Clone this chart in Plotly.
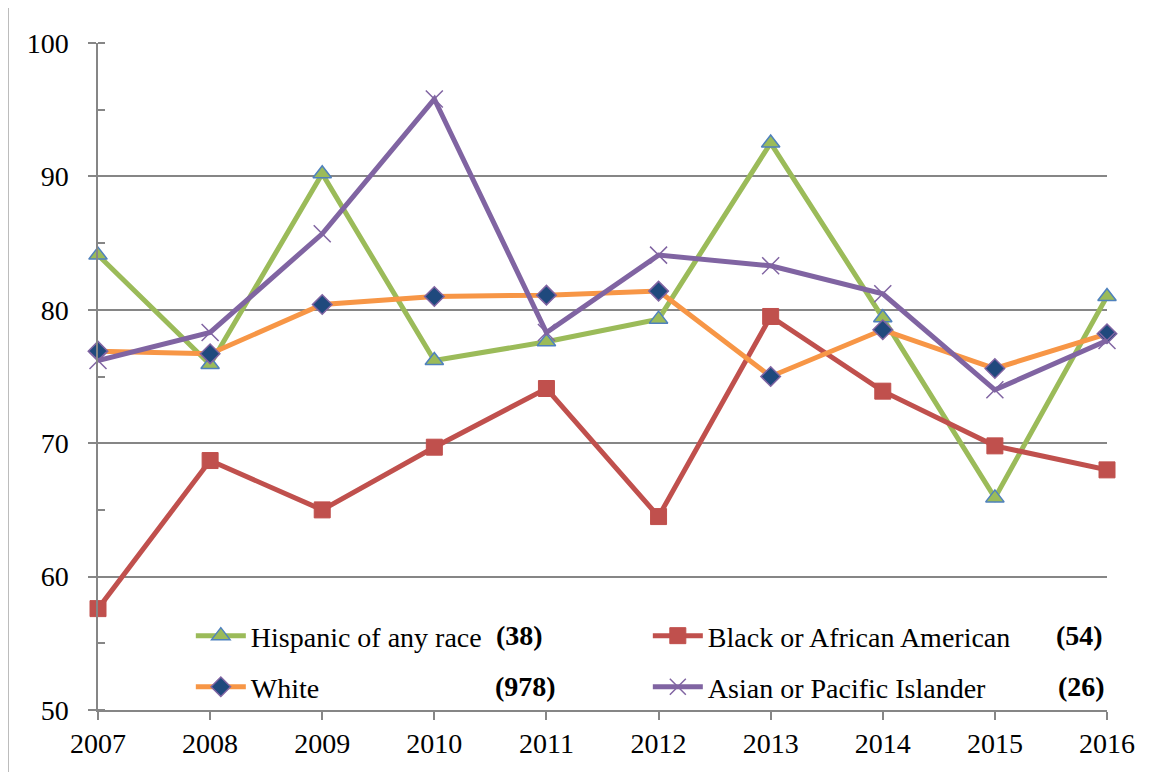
import plotly.graph_objects as go

years = [2007, 2008, 2009, 2010, 2011, 2012, 2013, 2014, 2015, 2016]
hispanic = [84.1, 75.9, 90.2, 76.2, 77.6, 79.3, 92.5, 79.4, 65.9, 81.0]
black = [57.6, 68.7, 65.0, 69.7, 74.1, 64.5, 79.5, 73.9, 69.8, 68.0]
white = [76.9, 76.7, 80.4, 81.0, 81.1, 81.4, 75.0, 78.5, 75.6, 78.2]
asian = [76.2, 78.3, 85.7, 95.8, 78.3, 84.1, 83.3, 81.2, 74.0, 77.7]

names = ["Hispanic of any race", "Black or African American", "White", "Asian or Pacific Islander"]
counts = ["(38)", "(54)", "(978)", "(26)"]

FONT = "Liberation Serif, Times New Roman, serif"
LFS = 28
LW = 5

fig = go.Figure()
fig.add_trace(go.Scatter(
    x=years, y=hispanic, name=names[0], mode="lines+markers", legend="legend",
    cliponaxis=False,
    line=dict(color="#9BBB59", width=LW),
    marker=dict(symbol="triangle-up", size=16, color="#9BBB59",
                line=dict(color="#4F81BD", width=1.5))))
fig.add_trace(go.Scatter(
    x=years, y=black, name=names[1], mode="lines+markers", legend="legend",
    cliponaxis=False,
    line=dict(color="#C0504D", width=LW),
    marker=dict(symbol="square", size=16, color="#C0504D",
                line=dict(color="#C0504D", width=1))))
fig.add_trace(go.Scatter(
    x=years, y=white, name=names[2], mode="lines+markers", legend="legend2",
    cliponaxis=False,
    line=dict(color="#F79646", width=LW),
    marker=dict(symbol="diamond", size=15, color="#1F497D",
                line=dict(color="#8064A2", width=1.5))))
fig.add_trace(go.Scatter(
    x=years, y=asian, name=names[3], mode="lines+markers", legend="legend2",
    cliponaxis=False,
    line=dict(color="#8064A2", width=LW),
    marker=dict(symbol="x-thin", size=17, color="#8064A2",
                line=dict(color="#8064A2", width=1.5))))

# legend counts (bold), aligned like tab stops
count_pos = [(0.443, 0.111), (0.998, 0.111), (0.456, 0.0345), (1.0, 0.0345)]
for c, (px, py) in zip(counts, count_pos):
    fig.add_annotation(text="<b>" + c + "</b>", x=px, y=py, xref="paper", yref="paper",
                       xanchor="right", yanchor="middle", showarrow=False,
                       font=dict(family=FONT, size=LFS, color="black"))

fig.add_shape(type="line", xref="paper", yref="paper",
              x0=-0.0892, x1=-0.0892, y0=-0.2, y1=1.2,
              line=dict(color="#A6A6A6", width=1.5))

leg_common = dict(orientation="h", x=0.092, xanchor="left", yanchor="middle",
                  bgcolor="rgba(0,0,0,0)", itemwidth=50,
                  entrywidth=392, entrywidthmode="pixels",
                  font=dict(family=FONT, size=LFS, color="black"),
                  tracegroupgap=0)

fig.update_layout(
    width=1157, height=772,
    margin=dict(l=90, r=58, t=35, b=70),
    paper_bgcolor="white", plot_bgcolor="white",
    font=dict(family=FONT, size=LFS, color="black"),
    showlegend=True,
    legend=dict(y=0.111, **leg_common),
    legend2=dict(y=0.0345, **leg_common),
    xaxis=dict(range=[2007, 2016], tickvals=years, ticktext=[str(y) for y in years],
               showgrid=False, showline=True, linecolor="#868686", linewidth=1.5,
               ticks="outside", ticklen=8, tickcolor="#868686", tickwidth=1.5,
               zeroline=False, tickfont=dict(family=FONT, size=28)),
    yaxis=dict(range=[50, 100], dtick=10, tick0=50,
               showgrid=True, gridcolor="#868686", gridwidth=1.5,
               showline=True, linecolor="#868686", linewidth=1.5,
               ticks="outside", ticklen=8, tickcolor="#868686", tickwidth=1.5,
               minor=dict(ticks="inside", dtick=5, ticklen=7, tickcolor="#868686",
                          tickwidth=1.5, showgrid=False),
               zeroline=False, ticklabelstandoff=14, tickfont=dict(family=FONT, size=28)),
)

fig.write_html("out.html")
